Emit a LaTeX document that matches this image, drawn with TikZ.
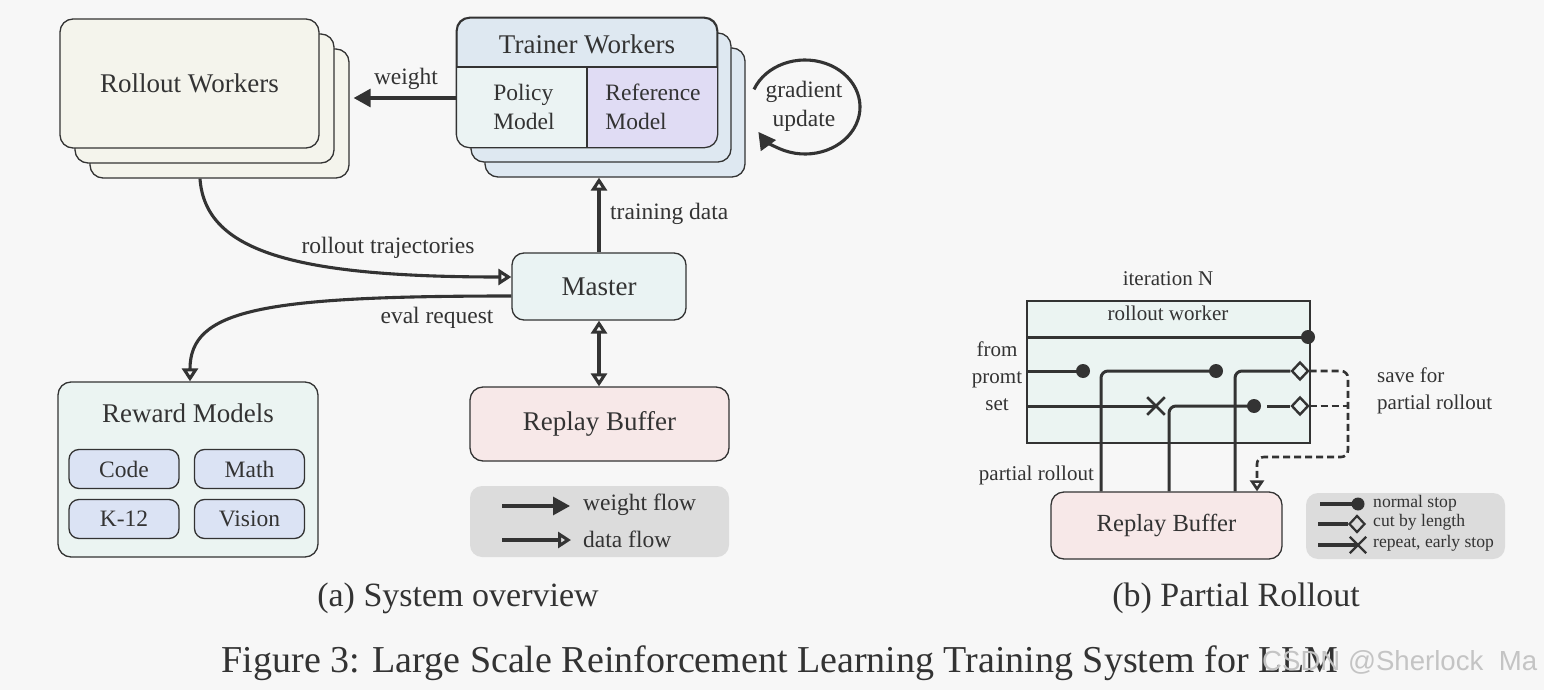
\documentclass[tikz,border=0pt]{standalone}
\usepackage{fontspec}
\setmainfont{Liberation Serif}
\newfontfamily\wmfont{Liberation Sans}
\usetikzlibrary{arrows.meta,calc,shapes.geometric,shapes.misc}
\definecolor{bg}{HTML}{F7F7F7}
\definecolor{ink}{HTML}{333333}
\definecolor{rollfill}{HTML}{F4F4EC}
\definecolor{trainfill}{HTML}{DEE8F1}
\definecolor{polfill}{HTML}{EBF3F3}
\definecolor{reffill}{HTML}{E0DCF4}
\definecolor{mastfill}{HTML}{EAF3F3}
\definecolor{rmfill}{HTML}{EBF4F2}
\definecolor{rmsub}{HTML}{DBE3F4}
\definecolor{rbfill}{HTML}{F7E8E8}
\definecolor{legfill}{HTML}{DCDCDC}
\definecolor{wmcol}{HTML}{C4C4C4}
\newcommand\fzL{\fontsize{27}{32}\selectfont}
\newcommand\fzM{\fontsize{23.5}{29}\selectfont}
\newcommand\fzRB{\fontsize{24.6}{29}\selectfont}
\newcommand\fzS{\fontsize{21}{27}\selectfont}
\newcommand\fzT{\fontsize{17.6}{20}\selectfont}
\newcommand\fzCap{\fontsize{34}{40}\selectfont}
\newcommand\fzFig{\fontsize{38}{44}\selectfont}
\begin{document}
\begin{tikzpicture}[x=1pt,y=1pt,
  every node/.style={text=ink},
  rbox/.style={draw=ink, line width=1.3pt, rounded corners=13pt, inner sep=0pt, font=\fzL},
  subbox/.style={draw=ink, line width=1.3pt, rounded corners=10pt, inner sep=0pt, fill=rmsub, font=\fzM, minimum width=110pt, minimum height=39pt},
  lbl/.style={font=\fzM, inner sep=1pt},
  conn/.style={draw=ink, line width=3.1pt},
  wflow/.style={conn, -{Triangle[length=17pt,width=18pt]}},
  dflow/.style={conn, -{Triangle[open,length=13pt,width=16pt]}},
  dflowboth/.style={conn, {Triangle[open,length=13pt,width=16pt]}-{Triangle[open,length=13pt,width=16pt]}},
  pline/.style={draw=ink, line width=3pt, rounded corners=7pt},
  dline/.style={draw=ink, line width=2.6pt, dash pattern=on 7pt off 4pt, rounded corners=7pt},
  dotmk/.style={circle, fill=ink, inner sep=0pt, minimum size=14pt},
  diamk/.style={diamond, draw=ink, line width=2.4pt, fill=rmfill, inner sep=0pt, minimum width=17pt, minimum height=18pt},
  xmk/.style={cross out, draw=ink, line width=2.6pt, inner sep=0pt, minimum size=15pt},
  smalldot/.style={circle, fill=ink, inner sep=0pt, minimum size=13pt},
  smalldia/.style={diamond, draw=ink, line width=2.2pt, fill=legfill, inner sep=0pt, minimum width=16pt, minimum height=17pt},
  smallx/.style={cross out, draw=ink, line width=2.4pt, inner sep=0pt, minimum size=14pt},
  legtxt/.style={font=\fzT, anchor=west, inner sep=0pt}
]
\fill[bg] (0,0) rectangle (1544,-690);
\useasboundingbox (0,0) rectangle (1544,-690);

% ---------------- (a) System overview ----------------
% Rollout workers stack
\node[rbox, fill=rollfill, minimum width=259pt, minimum height=129pt] (rw3) at (219.5,-113.5) {};
\node[rbox, fill=rollfill, minimum width=259pt, minimum height=129pt] (rw2) at (204.5,-98.5) {};
\node[rbox, fill=rollfill, minimum width=259pt, minimum height=129pt] (rw) at (189.5,-83.5) {Rollout Workers};

% Trainer workers stack
\node[rbox, fill=trainfill, minimum width=260pt, minimum height=129pt] (tw3) at (615,-112.5) {};
\node[rbox, fill=trainfill, minimum width=260pt, minimum height=129pt] (tw2) at (601,-97.5) {};
\node[rbox, fill=trainfill, minimum width=260pt, minimum height=129pt] (tw) at (587,-82.5) {};
\begin{scope}
  \clip[rounded corners=13pt] (tw.north west) rectangle (tw.south east);
  \fill[polfill] (tw.west |- 0,-67) rectangle (tw.south);
  \fill[reffill] (tw.south) rectangle (tw.east |- 0,-67);
\end{scope}
\draw[ink, line width=1.3pt, rounded corners=13pt] (tw.north west) rectangle (tw.south east);
\draw[ink, line width=1.3pt] (tw.west |- 0,-67) -- (tw.east |- 0,-67);
\draw[ink, line width=1.3pt] (tw.south |- 0,-67) -- (tw.south);
\node[font=\fzL] (twt) at (587,-44) {Trainer Workers};
\node[lbl, align=left] (pol) at (524,-107) {Policy\\Model};
\node[lbl, align=left] (refm) at (653,-107) {Reference\\Model};

% gradient update loop
\node[lbl, align=center] (grad) at (804,-106) {gradient\\update};
\draw[conn, -{Triangle[length=17pt,width=18pt]}] ($(805,-107)+(158:55pt and 47pt)$) arc[start angle=158, end angle=-148, x radius=55pt, y radius=47pt];

% weight arrow
\draw[wflow] (tw.west |- 0,-98) -- ($(rw3.east |- 0,-98)+(4,0)$);
\node[lbl] (wl) at (406,-79) {weight};

% Master
\node[rbox, fill=mastfill, minimum width=174pt, minimum height=67pt, rounded corners=12pt] (ma) at (599,-286.5) {Master};

% training data
\draw[dflow] (ma.north) -- (ma.north |- tw3.south);
\node[lbl, anchor=west] (tdl) at (609,-214) {training data};

% rollout trajectories
\draw[dflow] (rw3.south -| 200,0) .. controls (205,-250) and (290,-277) .. (ma.west |- 0,-277);
\node[lbl] (rtl) at (388,-248) {rollout trajectories};

% Reward models
\node[rbox, fill=rmfill, minimum width=260pt, minimum height=175pt] (rm) at (188,-469.5) {};
\node[font=\fzL] (rmt) at (188,-413) {Reward Models};
\node[subbox] (code) at (124,-469) {Code};
\node[subbox] (math) at (249.5,-469) {Math};
\node[subbox] (k12) at (124,-519) {K-12};
\node[subbox] (vis) at (249.5,-519) {Vision};

% eval request
\draw[dflow] (ma.west |- 0,-296) .. controls (260,-296) and (190,-310) .. (rm.north -| 190,0);
\node[lbl] (erl) at (437,-318) {eval request};

% Replay buffer
\node[rbox, fill=rbfill, minimum width=259pt, minimum height=74pt] (rb) at (599.5,-424) {Replay Buffer};
\draw[dflowboth] (ma.south) -- (rb.north -| ma.south);

% legend (a)
\node[fill=legfill, rounded corners=12pt, minimum width=259pt, minimum height=71pt, inner sep=0pt] (lg) at (599.5,-521.5) {};
\coordinate (lwa) at (502,-506);
\coordinate (lwb) at (570,-506);
\coordinate (lda) at (502,-540);
\coordinate (ldb) at (571,-540);
\draw[wflow] (lwa) -- (lwb);
\draw[dflow] (lda) -- (ldb);
\node[lbl, anchor=west] (lwt) at (582,-505) {weight flow};
\node[lbl, anchor=west] (ldt) at (582,-539) {data flow};

\node[font=\fzCap] (capa) at (458,-598) {(a) System overview};

% ---------------- (b) Partial Rollout ----------------
\node[font=\fzS] (itn) at (1168,-279) {iteration N};
\node[draw=ink, line width=1.3pt, fill=rmfill, minimum width=283pt, minimum height=142pt, inner sep=0pt] (rwk) at (1168.5,-372) {};
\node[font=\fzS] (rwkt) at (1168,-313) {rollout worker};
\node[font=\fzS, align=center] (fps) at (997,-376) {from\\promt\\set};

\node[rbox, fill=rbfill, minimum width=231pt, minimum height=67pt, font=\fzRB] (rb2) at (1166.5,-525.5) {Replay Buffer};
\node[font=\fzS, anchor=east, inner sep=0pt] (prl) at (1094,-475) {partial rollout};
\node[font=\fzS, anchor=west, align=left, inner sep=0pt] (sfp) at (1377,-391) {save for\\partial rollout};

% markers
\node[dotmk] (d1) at (1308,-337) {};
\node[dotmk] (d2) at (1083,-371) {};
\node[dotmk] (d3) at (1216,-371) {};
\node[dotmk] (d4) at (1254,-406) {};
\node[diamk] (m1) at (1300,-371) {};
\node[diamk] (m2) at (1300,-406) {};
\node[xmk] (x1) at (1156,-406) {};
\coordinate (r3s) at (1267,-406);

% rollout lines
\draw[pline] (rwk.west |- d1) -- (d1.center);
\draw[pline] (rwk.west |- d2) -- (d2.center);
\draw[pline] (rb2.north -| 1101,0) -- (1101,-371) -- (d3.center);
\draw[pline] (rb2.north -| 1235,0) -- (1235,-371) -- (m1.west);
\draw[pline] (rwk.west |- x1) -- (x1.center);
\draw[pline] (rb2.north -| 1169,0) -- (1169,-406) -- (d4.center);
\draw[pline] (r3s) -- (m2.west);

% dashed save path
\draw[dline] (m2.east) -- (1348,-406);
\draw[dline, -{Triangle[open,length=11pt,width=14pt]}] (m1.east) -- (1348,-371) -- (1348,-457) -- (1257,-457) -- (rb2.north -| 1257,0);

% legend (b)
\node[fill=legfill, rounded corners=12pt, minimum width=199pt, minimum height=66pt, inner sep=0pt] (lg2) at (1405.5,-526) {};
\node[smalldot] (ld) at (1358,-504) {};
\node[smalldia] (lm) at (1357,-524) {};
\node[smallx] (lx) at (1358,-545) {};
\draw[conn] (1320,-504) -- (ld.center);
\draw[conn] (1318,-524) -- (lm.west);
\draw[conn] (1318,-545) -- (lx.center);
\node[legtxt] (lt1) at (1373,-503) {normal stop};
\node[legtxt] (lt2) at (1373,-522) {cut by length};
\node[legtxt] (lt3) at (1373,-543) {repeat, early stop};

\node[font=\fzCap] (capb) at (1236,-598) {(b) Partial Rollout};

% caption
\node[font=\fzFig] (cap) at (780,-663) {Figure 3: Large Scale Reinforcement Learning Training System for LLM};
\node[font=\wmfont\fontsize{27.6}{30}\selectfont, text=wmcol, anchor=west, inner sep=0pt] (wm) at (1262,-662) {CSDN @Sherlock\ \ Ma};
\end{tikzpicture}
\end{document}
